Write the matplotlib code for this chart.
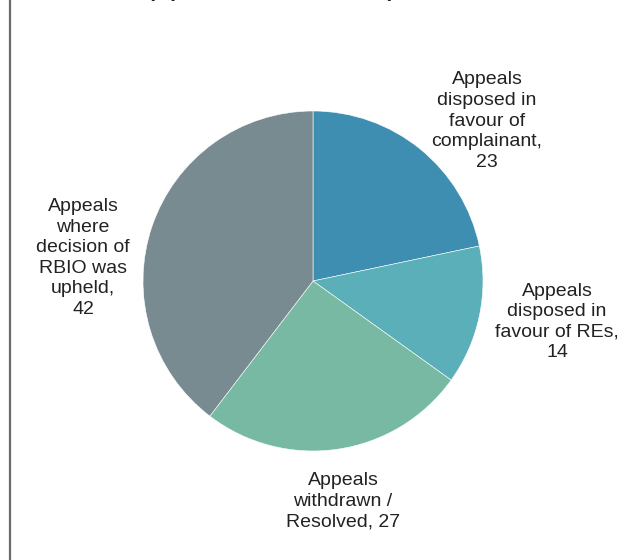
import matplotlib.pyplot as plt

categories = ["Appeals\ndisposed in\nfavour of\ncomplainant,\n23",
              "Appeals\ndisposed in\nfavour of REs,\n14",
              "Appeals\nwithdrawn /\nResolved, 27",
              "Appeals\nwhere\ndecision of\nRBIO was\nupheld,\n42"]
values = [23, 14, 27, 42]
colors = ["#3e8eb2", "#5bafb8", "#78b9a3", "#778b90"]
title = "(April 2021 - March 2022)"

plt.rcParams['font.family'] = ['Liberation Sans', 'DejaVu Sans']

W, H = 633, 560
fig = plt.figure(figsize=(W / 100, H / 100), dpi=100)
ax = fig.add_axes([0, 0, 1, 1])

cx, cy, r = 313, H - 281, 170
ax.pie(values, colors=colors, startangle=90, counterclock=False,
       center=(cx, cy), radius=r, frame=True,
       wedgeprops=dict(edgecolor='white', linewidth=0.4))
ax.set_xlim(0, W)
ax.set_ylim(0, H)
ax.set_aspect('equal')
ax.axis('off')

# label positions in pixel coordinates (x, y from top)
label_pos = [(487, 121), (557, 322), (343, 501), (83, 258)]
for lab, (px, py) in zip(categories, label_pos):
    ax.text(px, H - py, lab, ha='center', va='center', fontsize=14,
            color='#222222', linespacing=1.28)

# title cut off at the top of the picture
ax.text(271, H + 3, title, ha='center', va='baseline', fontsize=15,
        fontweight='bold', color='#222222', clip_on=False)

# left border
ax.plot([10, 10], [0, H], color='#6b6b6b', lw=1.6)

fig.savefig("out.png", dpi=100)
